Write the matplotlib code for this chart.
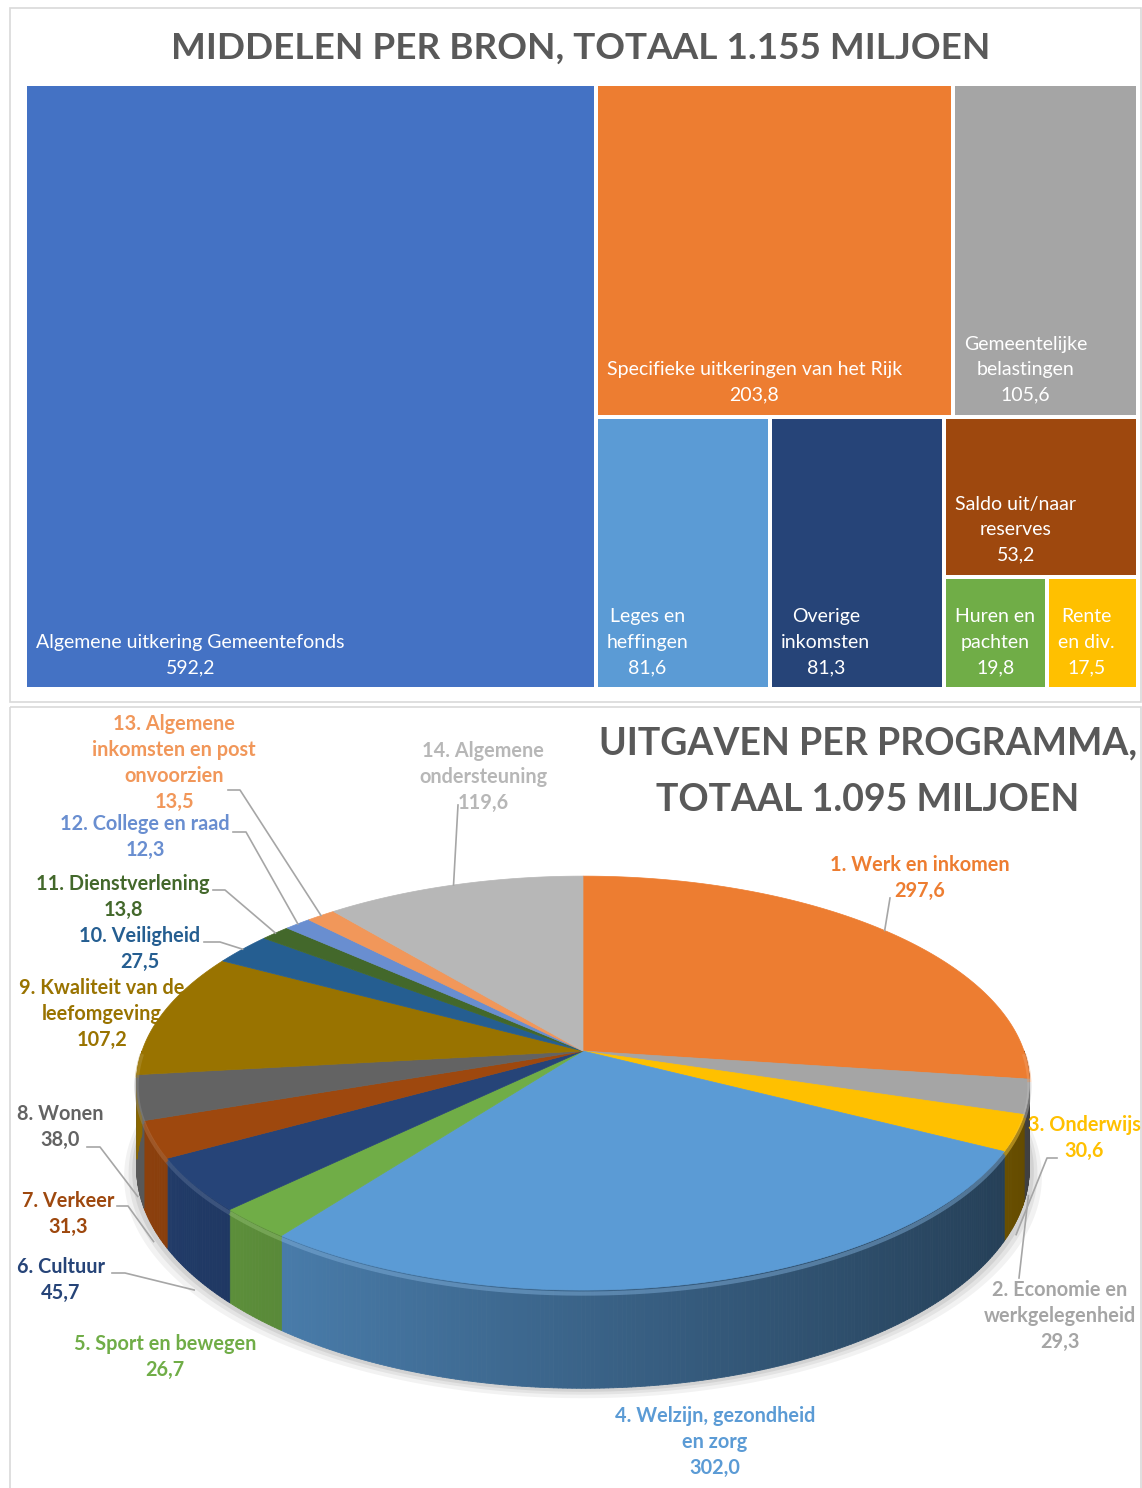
"""Treemap of income sources and a 3-D style pie of spending per programme."""
import matplotlib.pyplot as plt
import numpy as np
from matplotlib.collections import PolyCollection
from matplotlib.colors import to_rgb
from matplotlib.patches import Polygon, Rectangle

plt.rcParams["font.family"] = ["Lato", "DejaVu Sans"]

# --- data: income per source (treemap) ---
source_labels = [
    "Algemene uitkering Gemeentefonds",
    "Specifieke uitkeringen van het Rijk",
    "Gemeentelijke\nbelastingen",
    "Leges en\nheffingen",
    "Overige\ninkomsten",
    "Saldo uit/naar\nreserves",
    "Huren en\npachten",
    "Rente\nen div.",
]
source_values = [592.2, 203.8, 105.6, 81.6, 81.3, 53.2, 19.8, 17.5]
source_colors = ["#4472C4", "#ED7D31", "#A5A5A5", "#5B9BD5", "#264478", "#9E480E", "#70AD47", "#FFC000"]

# --- data: spending per programme (pie) ---
prog_labels = [
    "1. Werk en inkomen",
    "2. Economie en\nwerkgelegenheid",
    "3. Onderwijs",
    "4. Welzijn, gezondheid\nen zorg",
    "5. Sport en bewegen",
    "6. Cultuur",
    "7. Verkeer",
    "8. Wonen",
    "9. Kwaliteit van de\nleefomgeving",
    "10. Veiligheid",
    "11. Dienstverlening",
    "12. College en raad",
    "13. Algemene\ninkomsten en post\nonvoorzien",
    "14. Algemene\nondersteuning",
]
prog_values = [297.6, 29.3, 30.6, 302.0, 26.7, 45.7, 31.3, 38.0, 107.2, 27.5, 13.8, 12.3, 13.5, 119.6]
prog_colors = ["#ED7D31", "#A5A5A5", "#FFC000", "#5B9BD5", "#70AD47", "#264478", "#9E480E",
               "#636363", "#997300", "#255E91", "#43682B", "#698ED0", "#F1975A", "#B7B7B7"]

# label block centres (pixels) and leader start/knee points (None = no leader)
label_pos = [(920, 878), (1060, 1316), (1084, 1138), (715, 1442), (165, 1357), (61, 1280), (68, 1214),
             (60, 1127), (102, 1014), (140, 949), (123, 897), (145, 837), (174, 763), (483, 777)]
leader_pts = [[(890, 898)], [(1019, 1278)], [(1057, 1158), (1047, 1158)], None, None,
              [(112, 1273), (125, 1273)], [(117, 1206), (128, 1206)], [(87, 1147), (100, 1147)], None,
              [(204, 942), (220, 942)], [(213, 890), (225, 890)], [(233, 832), (246, 832)],
              [(228, 790), (240, 790)], [(458, 805)]]

W, H = 1142, 1488
TITLE_GREY = "#595959"


def fmt(v):
    return f"{v:.1f}".replace(".", ",")


def squarify(values, x, y, w, h):
    total = sum(values)
    areas = [v * w * h / total for v in values]

    def worst(row, side):
        s = sum(row)
        return max(max(side * side * r / (s * s), s * s / (side * side * r)) for r in row)

    rects = []
    while areas:
        side = min(w, h)
        row = [areas[0]]
        i = 1
        while i < len(areas) and worst(row + [areas[i]], side) <= worst(row, side):
            row.append(areas[i])
            i += 1
        areas = areas[i:]
        s = sum(row)
        if w >= h:
            cw = s / h
            yy = y
            for r in row:
                rects.append((x, yy, cw, r / cw))
                yy += r / cw
            x += cw
            w -= cw
        else:
            rh = s / w
            xx = x
            for r in row:
                rects.append((xx, y, r / rh, rh))
                xx += r / rh
            y += rh
            h -= rh
    return rects


# 3-D pie projection (pixel space, y down)
CX, CY, R, RT, K, DEPTH = 583, 1051, 441, 202, 0.155, 83


def project(theta_deg, depth=0.0):
    t = np.radians(theta_deg)
    u, v = np.sin(t), -np.cos(t)
    s = 1.0 / (1.0 - K * v)
    return CX + R * u * s, CY + RT * v * s + depth * s


def shade(color, f):
    return tuple(min(1.0, c * f) for c in to_rgb(color))


def lighten(color, f):
    return tuple(c + (1 - c) * f for c in to_rgb(color))


fig = plt.figure(figsize=(W / 100, H / 100), dpi=100)
ax = fig.add_axes([0, 0, 1, 1])
ax.set_xlim(0, W)
ax.set_ylim(H, 0)
ax.axis("off")

# panel frames
ax.add_patch(Rectangle((10, 8), 1131, 694, fill=False, ec="#D9D9D9", lw=1.2))
ax.add_patch(Rectangle((10, 707), 1131, 790, fill=False, ec="#D9D9D9", lw=1.2))

# ---------- treemap ----------
ax.text(581, 48, "MIDDELEN PER BRON, TOTAAL 1.155 MILJOEN", ha="center", va="center",
        fontsize=26.6, fontweight="bold", color=TITLE_GREY)
gap = 2
for (x, y, w, h), lab, val, col in zip(squarify(source_values, 25, 84, 1113, 605),
                                       source_labels, source_values, source_colors):
    ax.add_patch(Rectangle((x + gap, y + gap), w - 2 * gap, h - 2 * gap, fc=col, ec="none"))
    ax.text(x + gap + 9, y + h - gap - 11, f"{lab}\n{fmt(val)}", ha="left", va="bottom",
            multialignment="center", color="white", fontsize=14, linespacing=1.6)

# ---------- 3-D pie ----------
ax.text(868, 772, "UITGAVEN PER PROGRAMMA,\nTOTAAL 1.095 MILJOEN", ha="center", va="center",
        fontsize=27, fontweight="bold", color=TITLE_GREY, linespacing=1.82)

total = sum(prog_values)
bounds = np.concatenate([[0], np.cumsum(prog_values)]) / total * 360

# soft shadow under the pie
ring = np.linspace(0, 360, 361)
for grow, alpha in [(14, 0.05), (9, 0.06), (5, 0.07)]:
    xs, ys = project(ring, DEPTH + grow * 0.6)
    xs = CX + (xs - CX) * (1 + grow / 500)
    ax.add_patch(Polygon(np.column_stack([xs, ys]), closed=True, fc="#000000", ec="none", alpha=alpha))

# side walls (front half only), shaded from left to right
polys, cols = [], []
for a, b, col in zip(bounds[:-1], bounds[1:], prog_colors):
    lo, hi = max(a, 90), min(b, 270)
    if hi <= lo:
        continue
    steps = np.linspace(lo, hi, max(2, int((hi - lo) * 2) + 1))
    for t0, t1 in zip(steps[:-1], steps[1:]):
        x0, y0 = project(t0)
        x1, y1 = project(t1)
        x2, y2 = project(t1, DEPTH)
        x3, y3 = project(t0, DEPTH)
        polys.append([(x0, y0), (x1, y1), (x2, y2), (x3, y3)])
        u = np.sin(np.radians((t0 + t1) / 2))
        cols.append(shade(col, 0.64 - 0.26 * u))
ax.add_collection(PolyCollection(polys, facecolors=cols, edgecolors=cols, linewidths=0.6))

# top faces
for a, b, col in zip(bounds[:-1], bounds[1:], prog_colors):
    arc = np.linspace(a, b, max(3, int(b - a) * 2 + 2))
    xs, ys = project(arc)
    pts = np.vstack([[CX, CY], np.column_stack([xs, ys])])
    ax.add_patch(Polygon(pts, closed=True, fc=col, ec=col, lw=0.5))
    # soft bevel highlight on the front rim
    lo, hi = max(a, 90), min(b, 270)
    if hi > lo:
        rim = np.linspace(lo, hi, int(hi - lo) * 2 + 2)
        rx, ry = project(rim, 3)
        ax.plot(rx, ry, color=lighten(col, 0.25), lw=3, alpha=0.45, solid_capstyle="butt")

# labels and leader lines
for i, (lab, val, col) in enumerate(zip(prog_labels, prog_values, prog_colors)):
    lx, ly = label_pos[i]
    ax.text(lx, ly, f"{lab}\n{fmt(val)}", ha="center", va="center", multialignment="center",
            color=col, fontsize=14.3, fontweight="bold", linespacing=1.39)
    if leader_pts[i] is None:
        continue
    mid = (bounds[i] + bounds[i + 1]) / 2
    front = -np.cos(np.radians(mid)) > 0
    ex, ey = project(mid, DEPTH * 1.15 if front else 0)
    pts = leader_pts[i] + [(ex, ey)]
    ax.plot([p[0] for p in pts], [p[1] for p in pts], color="#A6A6A6", lw=1.2)

fig.savefig("out.png", dpi=100)
